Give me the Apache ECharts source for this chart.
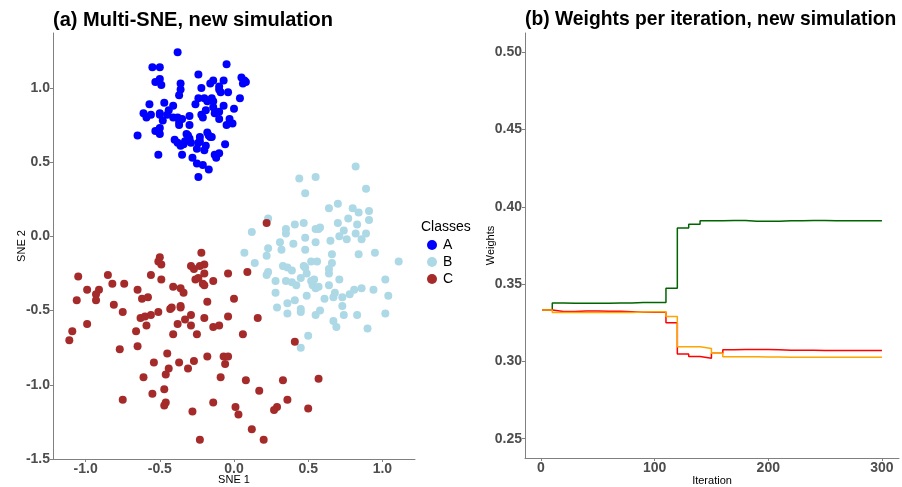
<!DOCTYPE html>
<html>
<head>
<meta charset="utf-8">
<title>Multi-SNE</title>
<script src="https://cdn.jsdelivr.net/npm/echarts@6/dist/echarts.min.js"></script>
<style>
  html, body { margin: 0; padding: 0; background: #fff; }
  #chart { width: 902px; height: 487px; }
</style>
</head>
<body>
<div id="chart"></div>
<script>
// embedding coordinates, one array per class
const classA = [
  [-0.38, 1.24], [-0.55, 1.14], [-0.50, 1.14], [-0.05, 1.16], [-0.24, 1.09],
  [-0.53, 1.04], [-0.50, 1.06], [-0.49, 1.02], [-0.36, 1.03], [-0.36, 0.99],
  [-0.37, 0.95], [-0.22, 1.00], [-0.16, 1.03], [-0.14, 1.05], [-0.10, 1.01],
  [-0.07, 1.05], [-0.04, 0.97], [-0.09, 0.97], [-0.10, 0.99], [0.05, 1.07],
  [0.07, 1.05], [0.08, 1.04], [0.06, 1.03], [-0.57, 0.89], [-0.61, 0.83],
  [-0.59, 0.80], [-0.56, 0.82], [-0.47, 0.90], [-0.48, 0.78], [-0.50, 0.82],
  [-0.50, 0.83], [-0.44, 0.85], [-0.41, 0.88], [-0.45, 0.82], [-0.41, 0.80],
  [-0.38, 0.80], [-0.37, 0.77], [-0.35, 0.79], [-0.37, 0.75], [-0.30, 0.81],
  [-0.30, 0.75], [-0.26, 0.89], [-0.24, 0.93], [-0.20, 0.93], [-0.15, 0.93],
  [-0.14, 0.91], [-0.18, 0.91], [-0.22, 0.82], [-0.21, 0.80], [-0.19, 0.85],
  [-0.14, 0.87], [-0.13, 0.83], [-0.10, 0.84], [-0.07, 0.88], [-0.10, 0.79],
  [-0.03, 0.79], [-0.01, 0.76], [0.00, 0.86], [0.04, 0.93], [-0.05, 0.75],
  [-0.65, 0.68], [-0.53, 0.71], [-0.50, 0.69], [-0.50, 0.73], [-0.40, 0.65],
  [-0.38, 0.63], [-0.36, 0.61], [-0.34, 0.62], [-0.33, 0.64], [-0.31, 0.68],
  [-0.30, 0.66], [-0.29, 0.63], [-0.23, 0.67], [-0.23, 0.64], [-0.24, 0.63],
  [-0.25, 0.59], [-0.19, 0.61], [-0.18, 0.70], [-0.17, 0.68], [-0.16, 0.67],
  [-0.15, 0.67], [-0.06, 0.62], [-0.51, 0.55], [-0.35, 0.55], [-0.28, 0.53],
  [-0.25, 0.49], [-0.21, 0.48], [-0.17, 0.45], [-0.24, 0.40], [-0.13, 0.55],
  [-0.12, 0.53], [-0.10, 0.56], [-0.20, 0.58], [-0.32, 0.69]
];
const classB = [
  [0.82, 0.47], [0.55, 0.40], [0.44, 0.39], [0.48, 0.29], [0.89, 0.32],
  [0.64, 0.19], [0.70, 0.22], [0.80, 0.19], [0.84, 0.16], [0.91, 0.17],
  [0.91, 0.11], [0.77, 0.12], [0.70, 0.09], [0.83, 0.08], [0.57, 0.05],
  [0.58, 0.06], [0.55, 0.05], [0.47, 0.09], [0.41, 0.08], [0.35, 0.05],
  [0.23, 0.12], [0.12, 0.03], [0.35, 0.02], [0.48, -0.01], [0.74, 0.04],
  [0.82, 0.02], [0.89, 0.02], [0.71, 0.00], [0.31, -0.04], [0.40, -0.05],
  [0.65, -0.03], [0.55, -0.04], [0.76, -0.02], [0.86, -0.02], [0.07, -0.11],
  [0.22, -0.13], [0.32, -0.09], [0.48, -0.09], [0.23, -0.08], [0.95, -0.11],
  [0.84, -0.12], [0.66, -0.12], [1.11, -0.17], [0.14, -0.18], [0.52, -0.17],
  [0.56, -0.17], [0.66, -0.18], [0.47, -0.20], [0.48, -0.21], [0.33, -0.20],
  [0.36, -0.21], [0.39, -0.23], [0.23, -0.24], [0.22, -0.26], [0.28, -0.30],
  [0.35, -0.30], [0.39, -0.31], [0.42, -0.33], [0.49, -0.25], [0.45, -0.28],
  [0.52, -0.30], [0.54, -0.29], [0.53, -0.33], [0.55, -0.35], [0.57, -0.34],
  [0.64, -0.22], [0.64, -0.25], [0.64, -0.33], [0.71, -0.29], [0.68, -0.38],
  [0.61, -0.42], [0.67, -0.41], [0.73, -0.41], [0.78, -0.39], [0.81, -0.36],
  [0.86, -0.35], [0.94, -0.36], [1.02, -0.29], [1.04, -0.40], [0.28, -0.38],
  [0.36, -0.45], [0.41, -0.43], [0.49, -0.40], [0.45, -0.49], [0.45, -0.51],
  [0.36, -0.52], [0.29, -0.48], [0.58, -0.50], [0.55, -0.53], [0.73, -0.47],
  [0.67, -0.57], [0.69, -0.61], [0.74, -0.53], [0.83, -0.53], [1.02, -0.52],
  [0.90, -0.62], [0.50, -0.67], [0.45, -0.75]
];
const classC = [
  [0.22, 0.09], [-0.22, -0.11], [-0.50, -0.14], [-0.49, -0.19], [-0.51, -0.17],
  [-0.29, -0.20], [-0.27, -0.22], [-0.20, -0.19], [-0.23, -0.20], [-0.26, -0.29],
  [-0.24, -0.28], [-0.20, -0.25], [-0.21, -0.32], [-0.20, -0.33], [-0.14, -0.30],
  [-0.04, -0.25], [0.09, -0.24], [-1.05, -0.27], [-0.85, -0.26], [-0.99, -0.36],
  [-0.91, -0.36], [-0.93, -0.39], [-0.93, -0.43], [-1.06, -0.43], [-0.82, -0.32],
  [-0.74, -0.32], [-0.81, -0.46], [-0.75, -0.51], [-0.99, -0.59], [-1.09, -0.64],
  [-1.11, -0.70], [-0.65, -0.36], [-0.62, -0.42], [-0.58, -0.41], [-0.63, -0.55],
  [-0.60, -0.54], [-0.56, -0.53], [-0.59, -0.60], [-0.66, -0.64], [-0.65, -0.74],
  [-0.77, -0.76], [-0.56, -0.26], [-0.49, -0.29], [-0.41, -0.34], [-0.36, -0.35],
  [-0.34, -0.38], [-0.36, -0.47], [-0.36, -0.48], [-0.42, -0.48], [-0.43, -0.49],
  [-0.51, -0.51], [-0.41, -0.66], [-0.38, -0.59], [-0.33, -0.56], [-0.29, -0.53],
  [-0.29, -0.60], [-0.25, -0.66], [-0.18, -0.44], [-0.20, -0.55], [-0.14, -0.61],
  [-0.10, -0.60], [-0.04, -0.54], [0.00, -0.42], [0.06, -0.66], [0.16, -0.55],
  [0.41, -0.71], [-0.45, -0.79], [-0.54, -0.85], [-0.44, -0.89], [-0.37, -0.85],
  [-0.31, -0.89], [-0.27, -0.84], [-0.18, -0.81], [-0.07, -0.81], [-0.04, -0.81],
  [-0.06, -0.86], [-0.09, -0.95], [-0.46, -0.93], [-0.61, -0.95], [0.08, -0.97],
  [0.17, -1.04], [0.33, -0.97], [0.57, -0.96], [0.36, -1.10], [0.29, -1.15],
  [0.27, -1.17], [0.50, -1.16], [-0.75, -1.10], [-0.55, -1.06], [-0.47, -1.03],
  [-0.46, -1.12], [-0.47, -1.14], [-0.28, -1.18], [-0.14, -1.12], [0.01, -1.15],
  [0.03, -1.20], [0.12, -1.30], [0.20, -1.37], [-0.23, -1.37]
];
const classNames = ['A', 'B', 'C'];
const classColors = ['#0000ff', '#add8e6', '#a52a2a'];

// weights per iteration (value holds until the next listed iteration)
const iterations = [1, 10, 20, 30, 40, 50, 60, 70, 80, 90, 100, 110, 120, 130, 140, 150,
  160, 170, 180, 190, 200, 210, 220, 230, 240, 250, 260, 270, 280, 290, 300];
const weightGreen = [0.3333, 0.3378, 0.3377, 0.3377, 0.3377, 0.3377, 0.3378, 0.3378, 0.3381, 0.3381,
  0.3381, 0.3474, 0.3864, 0.3887, 0.3910, 0.3910, 0.3911, 0.3911, 0.3907, 0.3907, 0.3907,
  0.3910, 0.3910, 0.3911, 0.3911, 0.3910, 0.3910, 0.3910, 0.3910, 0.3910, 0.3910];
const weightRed = [0.3333, 0.3323, 0.3323, 0.3326, 0.3326, 0.3324, 0.3324, 0.3322, 0.3318, 0.3318,
  0.3320, 0.3250, 0.3048, 0.3032, 0.3021, 0.3052, 0.3075, 0.3077, 0.3077, 0.3077, 0.3075,
  0.3072, 0.3072, 0.3072, 0.3071, 0.3071, 0.3071, 0.3071, 0.3071, 0.3071, 0.3071];
const weightOrange = [0.3333, 0.3316, 0.3316, 0.3316, 0.3316, 0.3316, 0.3316, 0.3316, 0.3320, 0.3322,
  0.3322, 0.3290, 0.3095, 0.3095, 0.3084, 0.3052, 0.3030, 0.3030, 0.3030, 0.3029, 0.3029,
  0.3027, 0.3027, 0.3027, 0.3027, 0.3027, 0.3027, 0.3027, 0.3027, 0.3027, 0.3027];
const sneTicks = [-1.5, -1.0, -0.5, 0.0, 0.5, 1.0];
const sneXTicks = [-1.0, -0.5, 0.0, 0.5, 1.0];
const weightTicks = [0.25, 0.30, 0.35, 0.40, 0.45, 0.50];
const iterTicks = [0, 100, 200, 300];

const FONT = '"Liberation Sans", Arial, sans-serif';
const AXIS_GREY = '#808080';

function pairs(xs, ys) {
  return xs.map((x, i) => [x, ys[i]])
}

function valueAxis(ticks, digits, extra) {
  return Object.assign({
    type: 'value',
    splitLine: { show: false },
    nameMoveOverlap: false,
    axisLine: { show: true, onZero: false, lineStyle: { color: AXIS_GREY, width: 1 } },
    axisTick: { show: true, length: 3, customValues: ticks, lineStyle: { color: AXIS_GREY } },
    axisLabel: {
      customValues: ticks,
      margin: 3,
      color: '#4d4d4d',
      fontSize: 14,
      fontWeight: 'bold',
      fontFamily: FONT,
      formatter: (v) => v.toFixed(digits)
    },
    nameTextStyle: { color: '#000', fontSize: 11, fontFamily: FONT }
  }, extra)
}

const chart = echarts.init(document.getElementById('chart'), null, { renderer: 'canvas' })

const option = {
  animation: false,
  backgroundColor: '#fff',
  title: [
    { text: '(a) Multi-SNE, new simulation', left: 53, top: 10, padding: 0, textStyle: { fontSize: 20, fontWeight: 'bold', color: '#000', fontFamily: FONT } },
    { text: '(b) Weights per iteration, new simulation', left: 525, top: 10, padding: 0, textStyle: { fontSize: 19.3, fontWeight: 'bold', color: '#000', fontFamily: FONT } },
    { text: 'Classes', left: 421, top: 220, padding: 0, textStyle: { fontSize: 14, fontWeight: 'normal', color: '#000', fontFamily: FONT } }
  ],
  legend: {
    orient: 'vertical',
    left: 427,
    top: 238,
    padding: 0,
    itemWidth: 10,
    itemHeight: 10,
    itemGap: 3,
    icon: 'circle',
    data: classNames,
    textStyle: { fontSize: 14, color: '#000', fontFamily: FONT, padding: [0, 0, 0, 1] }
  },
  grid: [
    { left: 53, right: 487, top: 33, bottom: 28, outerBoundsMode: 'none' },
    { left: 525, right: 3, top: 33, bottom: 29, outerBoundsMode: 'none' }
  ],
  xAxis: [
    valueAxis(sneXTicks, 1, { gridIndex: 0, min: -1.22, max: 1.22, name: 'SNE 1', nameLocation: 'middle', nameGap: 15 }),
    valueAxis(iterTicks, 0, { gridIndex: 1, min: -14, max: 315, name: 'Iteration', nameLocation: 'middle', nameGap: 17 })
  ],
  yAxis: [
    valueAxis(sneTicks, 1, { gridIndex: 0, min: -1.5, max: 1.37, name: 'SNE 2', nameLocation: 'middle', nameGap: 26 }),
    valueAxis(weightTicks, 2, { gridIndex: 1, min: 0.2375, max: 0.5125, name: 'Weights', nameLocation: 'middle', nameGap: 29 })
  ],
  series: [
    { name: 'A', type: 'scatter', xAxisIndex: 0, yAxisIndex: 0, data: classA, symbolSize: 8, itemStyle: { color: classColors[0], opacity: 1 } },
    { name: 'B', type: 'scatter', xAxisIndex: 0, yAxisIndex: 0, data: classB, symbolSize: 8, itemStyle: { color: classColors[1], opacity: 1 } },
    { name: 'C', type: 'scatter', xAxisIndex: 0, yAxisIndex: 0, data: classC, symbolSize: 8, itemStyle: { color: classColors[2], opacity: 1 } },
    { name: 'w1', type: 'line', step: 'end', xAxisIndex: 1, yAxisIndex: 1, showSymbol: false, data: pairs(iterations, weightGreen), lineStyle: { color: '#006400', width: 1.5 } },
    { name: 'w2', type: 'line', step: 'end', xAxisIndex: 1, yAxisIndex: 1, showSymbol: false, data: pairs(iterations, weightRed), lineStyle: { color: '#ff0000', width: 1.5 } },
    { name: 'w3', type: 'line', step: 'end', xAxisIndex: 1, yAxisIndex: 1, showSymbol: false, data: pairs(iterations, weightOrange), lineStyle: { color: '#ffa500', width: 1.5 } }
  ]
}
chart.setOption(option)
</script>
</body>
</html>
